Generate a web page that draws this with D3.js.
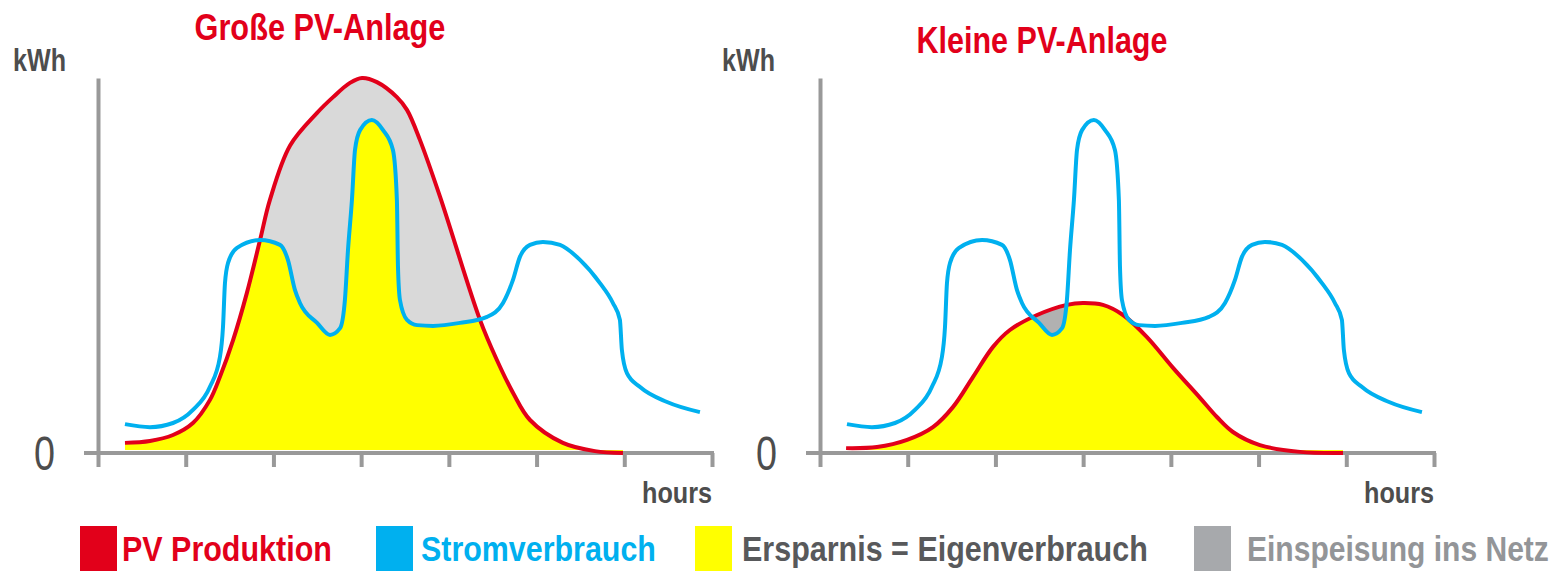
<!DOCTYPE html>
<html>
<head>
<meta charset="utf-8">
<script src="https://cdn.jsdelivr.net/npm/d3@7"></script>
<style>
  body { margin: 0; background: #fff; }
  svg { display: block; font-family: 'Liberation Sans Narrow', 'Arial Narrow', 'Liberation Sans', Arial, sans-serif; }
</style>
</head>
<body>
<svg id="chart" width="1557" height="571"></svg>
<script>
// hours on the x axis (0..28, a tick every 4h), kWh on the y axis (0..10)
const hourTicks = [0, 4, 8, 12, 16, 20, 24, 28];

// PV production, large system  [hour, kWh]
const pvLarge = [
  [1.23, 0.27], [2.37, 0.32], [3.42, 0.48], [4.33, 0.8], [5.1, 1.41], [5.56, 2.03],
  [6.16, 3.01], [6.79, 4.27], [7.39, 5.68], [7.84, 6.75], [8.76, 8.2], [9.99, 9.07],
  [10.72, 9.49], [11.49, 9.87], [12.04, 10.0], [12.72, 9.89], [13.63, 9.49], [14.09, 9.15],
  [14.68, 8.35], [15.6, 6.83], [17.42, 3.55], [18.19, 2.48], [18.93, 1.6],
  [19.7, 0.88], [21.2, 0.27], [22.66, 0.05], [23.94, 0]
];

// PV production, small system  [hour, kWh]
const pvSmall = [
  [1.19, 0.13], [2.6, 0.16], [3.97, 0.35], [5.15, 0.69], [6.07, 1.23], [6.98, 2.03],
  [7.89, 2.83], [8.66, 3.28], [9.9, 3.68], [11.26, 3.95], [11.99, 4.0], [12.9, 3.95],
  [13.82, 3.68], [14.91, 3.09], [16.1, 2.27], [17.33, 1.47], [18.1, 0.96], [18.83, 0.56],
  [20.06, 0.21], [21.89, 0.03], [23.85, 0]
];

// household consumption (same in both panels)  [hour, kWh]
const consumption = [
  [1.23, 0.77], [2.37, 0.69], [3.42, 0.8], [4.33, 1.15], [5.1, 1.76], [5.56, 2.56],
  [5.7, 3.36], [5.79, 4.53], [5.93, 5.07], [6.34, 5.47], [7.39, 5.68], [8.3, 5.55],
  [8.66, 5.15], [8.98, 4.35], [9.21, 4.0], [9.99, 3.47], [10.58, 3.15], [11.04, 3.33],
  [11.26, 4.08], [11.4, 5.41], [11.58, 6.75], [11.72, 8.08], [11.95, 8.61], [12.49, 8.88],
  [13.0, 8.61], [13.45, 8.08], [13.63, 6.75], [13.68, 4.96], [13.77, 4.08], [14.09, 3.55],
  [14.55, 3.41], [15.28, 3.39], [16.51, 3.47], [17.74, 3.63], [18.47, 4.0], [18.92, 4.61],
  [19.24, 5.23], [19.7, 5.55], [20.29, 5.63], [21.07, 5.55], [21.98, 5.15], [22.89, 4.53],
  [23.48, 4.0], [23.8, 3.55], [23.89, 2.75], [24.12, 2.13], [24.72, 1.76], [25.95, 1.36],
  [27.45, 1.09]
];

const titles = ['Große PV-Anlage', 'Kleine PV-Anlage'];
const legendLabels = ['PV Produktion', 'Stromverbrauch', 'Ersparnis = Eigenverbrauch', 'Einspeisung ins Netz'];

const RED = '#e2001a', BLUE = '#00b0ef', YELLOW = '#ffff00', AXIS = '#999999', DARK = '#4d4d4d';

const svg = d3.select('#chart');

// squeeze a text horizontally to the given width (the original uses a narrow font)
function squeeze(sel, width) {
  sel.each(function (d, i) {
    const w = typeof width === 'function' ? width(d, i) : width;
    const n = this.getComputedTextLength();
    const x = +this.getAttribute('x') || 0;
    d3.select(this).attr('transform', `translate(${x},0) scale(${w / n},1) translate(${-x},0)`);
  });
}

function drawPanel(idx, ox, pv, titleY, kwhX, feedColor) {
  const x = d3.scaleLinear().domain([0, 28]).range([ox, ox + 614]);
  const y = d3.scaleLinear().domain([0, 10]).range([453, 78]);
  const g = svg.append('g');

  const pvCurve = d3.curveCatmullRom.alpha(0.5);
  const pvLine = d3.line().x(d => x(d[0])).y(d => y(d[1])).curve(pvCurve);
  const pvArea = d3.area().x(d => x(d[0])).y0(y(0) - 3).y1(d => y(d[1])).curve(pvCurve);
  const loadLine = d3.line().x(d => x(d[0])).y(d => y(d[1])).curve(d3.curveMonotoneX);
  const loadArea = d3.area().x(d => x(d[0])).y0(y(0) + 20).y1(d => y(d[1])).curve(d3.curveMonotoneX);

  // clip = everything below the consumption curve
  g.append('clipPath').attr('id', 'under-load-' + idx)
    .append('path').attr('d', loadArea(consumption));

  // feed-in (grey) = whole PV area, self-consumption (yellow) = PV area under the load
  g.append('path').attr('d', pvArea(pv)).attr('fill', feedColor);
  g.append('path').attr('d', pvArea(pv)).attr('fill', YELLOW)
    .attr('clip-path', `url(#under-load-${idx})`);

  // axes
  const xAxis = g.append('g').attr('transform', `translate(0,${y(0)})`)
    .call(d3.axisBottom(x).tickValues(hourTicks).tickSize(14).tickFormat(''));
  xAxis.select('.domain').remove();
  xAxis.selectAll('.tick line').attr('stroke', AXIS).attr('stroke-width', 4);
  g.append('line')
    .attr('x1', x(0) - 14).attr('x2', x(28) + 2)
    .attr('y1', y(0)).attr('y2', y(0))
    .attr('stroke', AXIS).attr('stroke-width', 4);

  const yAxis = g.append('g').attr('transform', `translate(${x(0)},0)`)
    .call(d3.axisLeft(y).tickValues([0]).tickSize(0).tickSizeOuter(0).tickPadding(43));
  yAxis.select('.domain').attr('stroke', AXIS).attr('stroke-width', 4);
  yAxis.selectAll('.tick text')
    .attr('font-family', "'Liberation Sans Narrow', 'Arial Narrow', 'Liberation Sans', sans-serif")
    .attr('font-size', 48).attr('fill', DARK).attr('dy', '0.35em')
    .call(squeeze, 21);

  // lines
  g.append('path').attr('d', pvLine(pv)).attr('fill', 'none')
    .attr('stroke', RED).attr('stroke-width', 4);
  g.append('path').attr('d', loadLine(consumption)).attr('fill', 'none')
    .attr('stroke', BLUE).attr('stroke-width', 4);

  // texts
  g.append('text').attr('x', x(0) + 222).attr('y', titleY)
    .attr('text-anchor', 'middle').attr('font-size', 37).attr('font-weight', 'bold')
    .attr('fill', RED).text(titles[idx])
    .call(squeeze, 251);
  g.append('text').attr('x', kwhX).attr('y', 71)
    .attr('font-size', 31).attr('font-weight', 'bold').attr('fill', DARK)
    .text('kWh')
    .call(squeeze, 53);
  g.append('text').attr('x', x(28)).attr('y', 503)
    .attr('text-anchor', 'end').attr('font-size', 29).attr('font-weight', 'bold').attr('fill', DARK)
    .text('hours')
    .call(squeeze, 70);
}

drawPanel(0, 98, pvLarge, 40, 13, '#d9d9d9');
drawPanel(1, 820, pvSmall, 53, 722, '#b1b1b1');

// legend
const legendSwatch = [RED, BLUE, YELLOW, '#a7a9ac'];
const legendText = [RED, BLUE, '#58595b', '#939598'];
const legendX = [80, 376, 695, 1194];
const legendTextX = [122, 421, 742, 1247];
const legendW = [210, 235, 406, 302];

const legend = svg.append('g').selectAll('g')
  .data(legendLabels).enter().append('g');
legend.append('rect')
  .attr('x', (d, i) => legendX[i]).attr('y', 526)
  .attr('width', 37).attr('height', 45)
  .attr('fill', (d, i) => legendSwatch[i]);
legend.append('text')
  .attr('x', (d, i) => legendTextX[i]).attr('y', 561)
  .attr('font-size', 35).attr('font-weight', 'bold')
  .attr('fill', (d, i) => legendText[i])
  .text(d => d)
  .call(squeeze, (d, i) => legendW[i]);
</script>
</body>
</html>
